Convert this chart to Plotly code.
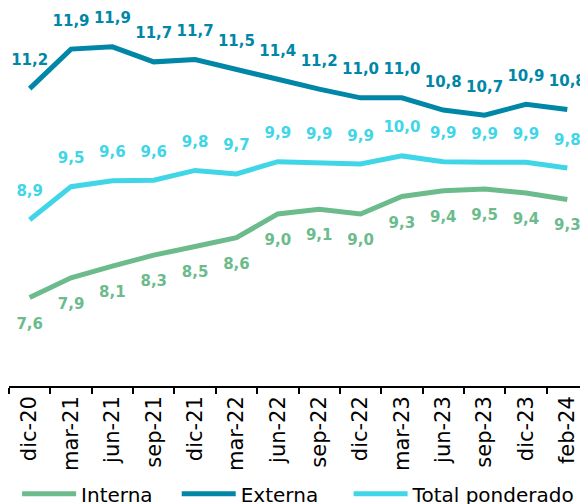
import plotly.graph_objects as go

categories = ["dic-20", "mar-21", "jun-21", "sep-21", "dic-21", "mar-22", "jun-22",
              "sep-22", "dic-22", "mar-23", "jun-23", "sep-23", "dic-23", "feb-24"]
interna = [7.60, 7.94, 8.14, 8.33, 8.48, 8.63, 9.04, 9.12, 9.04, 9.34, 9.44, 9.47, 9.40, 9.29]
externa = [11.20, 11.88, 11.92, 11.66, 11.70, 11.52, 11.36, 11.19, 11.04, 11.04, 10.83, 10.74, 10.93, 10.84]
total = [8.94, 9.51, 9.61, 9.62, 9.79, 9.73, 9.94, 9.93, 9.90, 10.04, 9.94, 9.93, 9.93, 9.83]

series_names = ["Interna", "Externa", "Total ponderado"]
series = [
    (series_names[0], interna, "#6cbb8c", "bottom center", 3),
    (series_names[1], externa, "#0086a6", "top center", 4),
    (series_names[2], total, "#40d6e8", "top center", 0),
]

def fmt(v):
    return f"{round(v + 1e-9, 1):.1f}".replace(".", ",")

fig = go.Figure()
for name, vals, color, pos, pad in series:
    fig.add_trace(go.Scatter(
        x=categories, y=vals, name=name + "&nbsp;" * pad, mode="lines+markers+text",
        line=dict(color=color, width=5),
        marker=dict(size=30, color="rgba(0,0,0,0)"),
        text=[fmt(v) for v in vals], textposition=pos,
        textfont=dict(family="DejaVu Sans", size=15, color=color, weight="bold"),
        cliponaxis=False, hoverinfo="skip",
    ))

# page body has an 8px margin, so the figure is drawn at (8, 8)
fig.update_layout(
    width=580, height=496,
    margin=dict(l=1, r=0, t=0, b=118, autoexpand=False),
    paper_bgcolor="white", plot_bgcolor="white",
    font=dict(family="DejaVu Sans", color="#000000"),
    showlegend=True,
    legend=dict(orientation="h", x=0.014, xanchor="left", y=-0.285, yanchor="middle",
                font=dict(size=20, family="DejaVu Sans", color="#000000"),
                itemwidth=54, tracegroupgap=0, bgcolor="rgba(0,0,0,0)"),
    xaxis=dict(type="category", range=[-0.5, 13.5], tickangle=-90,
               tickfont=dict(size=21, family="DejaVu Sans", color="#000000"),
               showline=True, linecolor="#000000", linewidth=1.5,
               ticks="outside", ticklen=6, tickcolor="#000000", tickwidth=1.5,
               tickson="boundaries", showgrid=False, zeroline=False),
    yaxis=dict(range=[6.076, 12.588], visible=False, showgrid=False, zeroline=False),
)

fig.write_html("out.html")
